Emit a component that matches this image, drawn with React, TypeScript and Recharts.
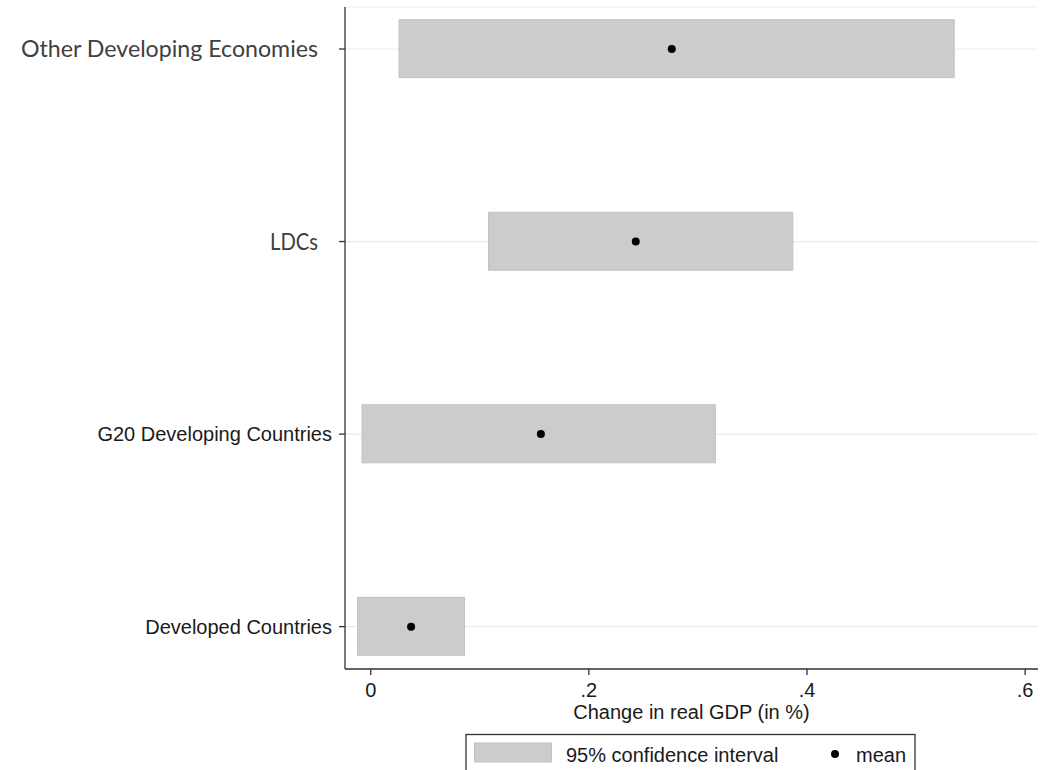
import React from "react";
import {
  ComposedChart,
  Bar,
  Line,
  XAxis,
  YAxis,
  CartesianGrid,
} from "recharts";

// ---- data ----
const categories = [
  "Developed Countries",
  "G20 Developing Countries",
  "LDCs",
  "Other Developing Economies",
];
const positions = [1, 2, 3, 4];
const lowerCI = [-0.012, -0.008, 0.108, 0.026];
const upperCI = [0.086, 0.316, 0.387, 0.535];
const means = [0.037, 0.156, 0.243, 0.276];
const xTicks = [0, 0.2, 0.4, 0.6];
const xTickLabels = ["0", ".2", ".4", ".6"];

const rows = categories.map((c, i) => ({
  name: c,
  pos: positions[i],
  ci: [lowerCI[i], upperCI[i]],
  mean: means[i],
}));

// ---- styles ----
const ARIAL = "'Liberation Sans', Arial, sans-serif";
const CALIBRI = "Lato, 'Open Sans', sans-serif";
const calibriWidths: Record<string, number> = {
  LDCs: 48,
  "Other Developing Economies": 297,
};

const YTick = (props: any) => {
  const { x, y, payload } = props;
  const idx = positions.indexOf(payload.value);
  const label = categories[idx];
  if (!label) return null;
  const calW = calibriWidths[label];
  if (calW) {
    return (
      <text
        x={x - 19 - calW}
        y={y}
        dy={8}
        textAnchor="start"
        fontFamily={CALIBRI}
        fontSize={22.5}
        fill="#404040"
        textLength={calW}
        lengthAdjust="spacingAndGlyphs"
      >
        {label}
      </text>
    );
  }
  return (
    <text
      x={x - 5}
      y={y}
      dy={7}
      textAnchor="end"
      fontFamily={ARIAL}
      fontSize={20}
      fill="#1a1a1a"
    >
      {label}
    </text>
  );
};

export default function App() {
  return (
    <div
      style={{
        position: "absolute",
        left: 0,
        top: 0,
        width: 1041,
        height: 790,
        background: "#fff",
      }}
    >
      <ComposedChart
        width={1041}
        height={730}
        data={rows}
        layout="vertical"
        margin={{ top: 7, right: 3, bottom: 6, left: 0 }}
      >
        <CartesianGrid
          horizontal={true}
          vertical={false}
          stroke="#e4eef0"
          strokeWidth={1.2}
        />
        <XAxis
          type="number"
          domain={[-0.0236, 0.6118]}
          allowDataOverflow
          ticks={xTicks}
          tickFormatter={(v: number) => xTickLabels[xTicks.indexOf(v)] ?? ""}
          height={55}
          tickSize={6}
          tickMargin={8}
          stroke="#333"
          strokeWidth={1.3}
          tick={{ fontSize: 20, fontFamily: ARIAL, fill: "#1a1a1a" }}
          label={{
            value: "Change in real GDP (in %)",
            position: "insideBottom",
            offset: 5,
            fontSize: 20,
            fontFamily: ARIAL,
            fill: "#1a1a1a",
          }}
        />
        <YAxis
          type="number"
          dataKey="pos"
          domain={[0.78, 4.218]}
          allowDataOverflow
          reversed
          ticks={positions}
          width={345}
          tickSize={6}
          tickMargin={2}
          stroke="#333"
          strokeWidth={1.3}
          tick={<YTick />}
        />
        <Bar
          dataKey="ci"
          barSize={58}
          fill="#cccccc"
          stroke="#c2c2c2"
          strokeWidth={1}
          isAnimationActive={false}
        />
        <Line
          dataKey="mean"
          stroke="none"
          dot={{ r: 4, fill: "#000", stroke: "none" }}
          activeDot={false}
          isAnimationActive={false}
        />
      </ComposedChart>
      <svg
        width={1041}
        height={60}
        style={{ position: "absolute", left: 0, top: 730 }}
      >
        <rect
          x={466}
          y={4.5}
          width={449}
          height={70}
          fill="#fff"
          stroke="#333"
          strokeWidth={1.3}
        />
        <rect
          x={474.5}
          y={13}
          width={77}
          height={19}
          fill="#cccccc"
          stroke="#c2c2c2"
        />
        <text
          x={566}
          y={32}
          fontFamily={ARIAL}
          fontSize={20}
          fill="#1a1a1a"
        >
          95% confidence interval
        </text>
        <circle cx={835} cy={24} r={4} fill="#000" />
        <text x={856} y={32} fontFamily={ARIAL} fontSize={20} fill="#1a1a1a">
          mean
        </text>
      </svg>
    </div>
  );
}
